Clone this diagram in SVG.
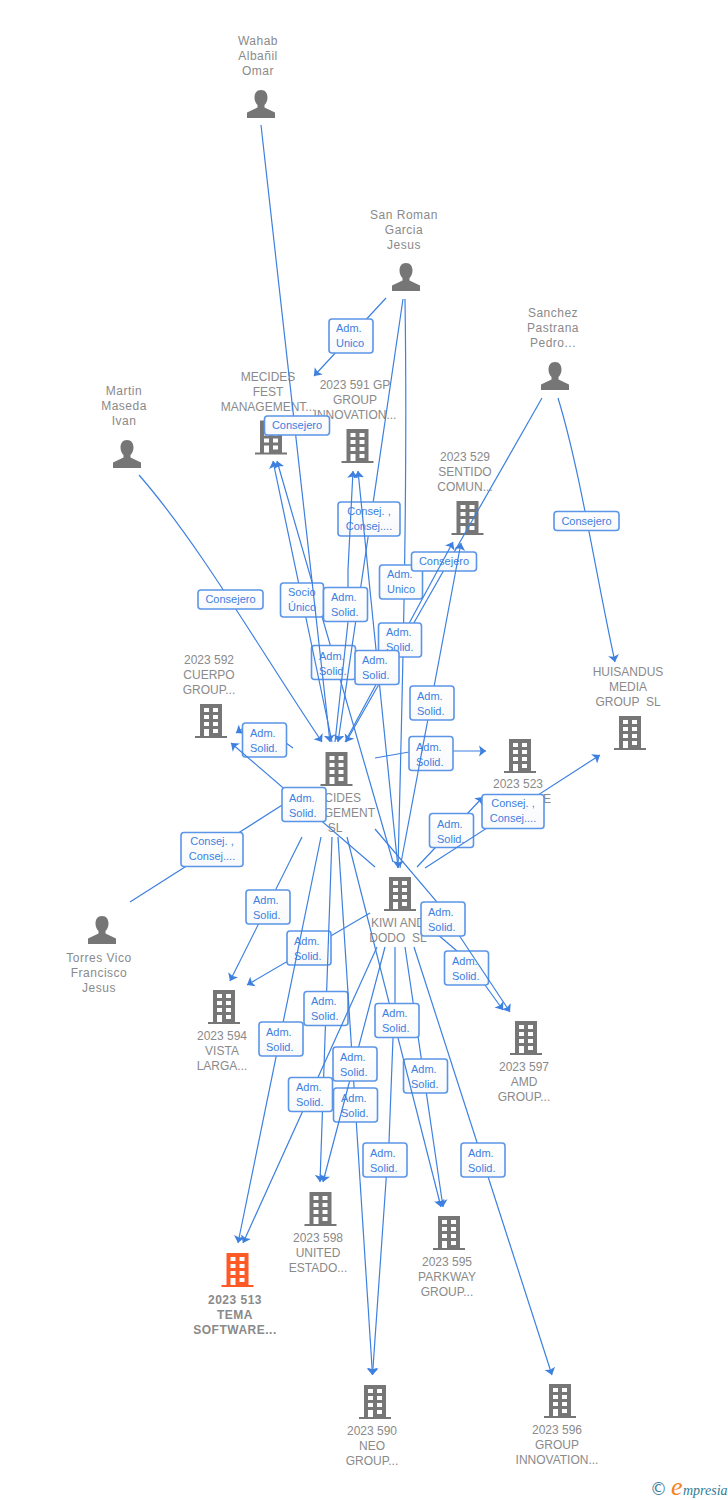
<svg xmlns="http://www.w3.org/2000/svg" width="728" height="1500" viewBox="0 0 728 1500">
<style>
text{font-family:"Liberation Sans",Arial,sans-serif}
.n{font-size:12px;fill:#8a8a8a;text-anchor:middle;white-space:pre}
.s{letter-spacing:.5px}
.b{font-weight:bold;letter-spacing:.5px}
.r{text-anchor:end}
.e{fill:none;stroke:#3d80e0;stroke-width:1.2;marker-end:url(#a)}
.p{fill:none;stroke:#3d80e0;stroke-width:1.2}
.l rect{fill:url(#g);stroke:#5b95e8;stroke-width:1.6}
.l text{font-size:11px;fill:#3d80e0}
.c{text-anchor:middle}
</style>
<defs>
<linearGradient id="g" x1="0" y1="0" x2="0" y2="1"><stop offset="0" stop-color="#fff"/><stop offset="1" stop-color="#f8f9fb"/></linearGradient>
<marker id="a" markerUnits="userSpaceOnUse" markerWidth="10" markerHeight="12" refX="7" refY="6" orient="auto"><path d="M0 .5L7 6L0 11.500L1.500 6Z" fill="#3d80e0"/></marker>
<symbol id="bld" overflow="visible"><path fill-rule="evenodd" d="M-11-17H11V15H16V17H-16V15H-11ZM-7-13V-9H-2V-13ZM2-13V-9H7V-13ZM-7-6V-2H-2V-6ZM2-6V-2H7V-6ZM-7 1V5H-2V1ZM2 1V5H7V1ZM-7 8V15H-2V8ZM2 8V12H7V8Z"/></symbol>
<symbol id="per" overflow="visible"><path d="M0-14C4.500-14 6.500-10.500 6.500-6.500C6.500-3 5-.5 3.500 1V3.500L14 8.500V14H-14V8.500L-3.500 3.500V1C-5-.5-6.500-3-6.500-6.500C-6.500-10.500-4.500-14 0-14Z"/></symbol>
</defs>
<g id="nodes" fill="#767676">
<g id="n-wahab"><use href="#per" x="261" y="104"/><text class="n s" x="258" y="45">Wahab</text><text class="n s" x="258" y="60">Albañil</text><text class="n s" x="258" y="75">Omar</text></g>
<g id="n-sanroman"><use href="#per" x="406" y="277"/><text class="n s" x="404" y="219">San Roman</text><text class="n s" x="404" y="234">Garcia</text><text class="n s" x="404" y="249">Jesus</text></g>
<g id="n-sanchez"><use href="#per" x="555" y="376"/><text class="n s" x="553" y="317">Sanchez</text><text class="n s" x="553" y="332">Pastrana</text><text class="n s" x="553" y="347">Pedro...</text></g>
<g id="n-martin"><use href="#per" x="127" y="454"/><text class="n s" x="124" y="395">Martin</text><text class="n s" x="124" y="410">Maseda</text><text class="n s" x="124" y="425">Ivan</text></g>
<g id="n-torres"><use href="#per" x="102" y="930"/><text class="n s" x="99" y="962">Torres Vico</text><text class="n s" x="99" y="977">Francisco</text><text class="n s" x="99" y="992">Jesus</text></g>
<g id="n-fest"><use href="#bld" x="271" y="437.500"/><text class="n" x="268" y="381">MECIDES</text><text class="n" x="268" y="396">FEST</text><text class="n" x="268" y="411">MANAGEMENT...</text></g>
<g id="n-591"><use href="#bld" x="357.500" y="446"/><text class="n" x="355" y="389">2023 591 GP</text><text class="n" x="355" y="404">GROUP</text><text class="n" x="355" y="419">INNOVATION...</text></g>
<g id="n-529"><use href="#bld" x="467.500" y="518"/><text class="n" x="465" y="461">2023 529</text><text class="n" x="465" y="476">SENTIDO</text><text class="n" x="465" y="491">COMUN...</text></g>
<g id="n-592"><use href="#bld" x="211" y="721"/><text class="n" x="209" y="664">2023 592</text><text class="n" x="209" y="679">CUERPO</text><text class="n" x="209" y="694">GROUP...</text></g>
<g id="n-huis"><use href="#bld" x="630" y="733"/><text class="n" x="628" y="676">HUISANDUS</text><text class="n" x="628" y="691">MEDIA</text><text class="n" x="628" y="706">GROUP  SL</text></g>
<g id="n-mecides"><use href="#bld" x="336.500" y="769"/><text class="n r" x="361" y="802">CIDES</text><text class="n r" x="375" y="817">GEMENT</text><text class="n" x="335" y="832">SL</text></g>
<g id="n-523"><use href="#bld" x="520" y="756"/><text class="n" x="518" y="788">2023 523</text><text class="n" x="547" y="803">E</text></g>
<g id="n-kiwi"><use href="#bld" x="400" y="894"/><text class="n" x="398" y="927">KIWI AND</text><text class="n" x="398" y="942">DODO  SL</text></g>
<g id="n-594"><use href="#bld" x="224" y="1007"/><text class="n" x="222" y="1040">2023 594</text><text class="n" x="222" y="1055">VISTA</text><text class="n" x="222" y="1070">LARGA...</text></g>
<g id="n-597"><use href="#bld" x="526" y="1038"/><text class="n" x="524" y="1071">2023 597</text><text class="n" x="524" y="1086">AMD</text><text class="n" x="524" y="1101">GROUP...</text></g>
<g id="n-598"><use href="#bld" x="320.500" y="1209"/><text class="n" x="318" y="1242">2023 598</text><text class="n" x="318" y="1257">UNITED</text><text class="n" x="318" y="1272">ESTADO...</text></g>
<g id="n-595"><use href="#bld" x="449" y="1233"/><text class="n" x="447" y="1266">2023 595</text><text class="n" x="447" y="1281">PARKWAY</text><text class="n" x="447" y="1296">GROUP...</text></g>
<g id="n-513"><use href="#bld" x="237.500" y="1270" fill="#ff5a26"/><text class="n b" x="235" y="1304">2023 513</text><text class="n b" x="235" y="1319">TEMA</text><text class="n b" x="235" y="1334">SOFTWARE...</text></g>
<g id="n-590"><use href="#bld" x="375" y="1402"/><text class="n" x="372" y="1435">2023 590</text><text class="n" x="372" y="1450">NEO</text><text class="n" x="372" y="1465">GROUP...</text></g>
<g id="n-596"><use href="#bld" x="560" y="1401"/><text class="n" x="557" y="1434">2023 596</text><text class="n" x="557" y="1449">GROUP</text><text class="n" x="557" y="1464">INNOVATION...</text></g>
</g>
<g id="connectors">
<path class="e" d="M386 298L314 376"/>
<g class="l"><rect x="329" y="319" width="44" height="34" rx="3"/><text x="336" y="332">Adm.</text><text x="336" y="347">Unico</text></g>
<path class="e" d="M393 862L277 461"/>
<g class="l"><rect x="311.500" y="645.500" width="44" height="34" rx="3"/><text x="319" y="660">Adm.</text><text x="319" y="675">Solid.</text></g>
<path class="e" d="M332 742L273 461"/>
<g class="l"><rect x="280.500" y="583" width="43" height="34" rx="3"/><text x="288" y="596">Socio</text><text x="288" y="611">Único</text></g>
<path class="e" d="M261 125L330 742"/>
<g class="l"><rect x="264.500" y="416" width="65" height="19" rx="3"/><text class="c" x="297" y="429">Consejero</text></g>
<path class="e" d="M403 299L338 742"/>
<g class="l"><rect x="338" y="502" width="62" height="34" rx="3"/><text class="c" x="369" y="515">Consej. ,</text><text class="c" x="369" y="530">Consej....</text></g>
<path class="e" d="M405 299C408 500 402 700 398 868"/>
<g class="l"><rect x="379.500" y="565" width="43" height="34" rx="3"/><text x="387" y="578">Adm.</text><text x="387" y="593">Unico</text></g>
<path class="e" d="M542 398L346 742"/>
<g class="l"><rect x="411.500" y="552" width="65" height="19" rx="3"/><text class="c" x="444" y="565">Consejero</text></g>
<path class="e" d="M345 742L453 542"/>
<g class="l"><rect x="378.500" y="623" width="43" height="34" rx="3"/><text x="386" y="636">Adm.</text><text x="386" y="651">Solid.</text></g>
<path class="e" d="M398 868L358 471"/>
<g class="l"><rect x="355" y="650.500" width="44" height="34" rx="3"/><text x="362" y="664">Adm.</text><text x="362" y="679">Solid.</text></g>
<path class="e" d="M335 742L348 622L348 570L353 471"/>
<g class="l"><rect x="323.500" y="587.500" width="44" height="34" rx="3"/><text x="331" y="601">Adm.</text><text x="331" y="616">Solid.</text></g>
<path class="e" d="M375 758L409 752L453 751L486 751"/>
<g class="l"><rect x="409" y="736.500" width="44" height="34" rx="3"/><text x="416" y="751">Adm.</text><text x="416" y="766">Solid.</text></g>
<path class="e" d="M400 868L461 543"/>
<g class="l"><rect x="410" y="686" width="44" height="34" rx="3"/><text x="417" y="700">Adm.</text><text x="417" y="715">Solid.</text></g>
<path class="e" d="M423 922L457 951L485 985L503 1010"/>
<g class="l"><rect x="444.500" y="951" width="44" height="34" rx="3"/><text x="452" y="965">Adm.</text><text x="452" y="980">Solid.</text></g>
<path class="e" d="M375 829L437 902L510 1012"/>
<g class="l"><rect x="421" y="902" width="44" height="34" rx="3"/><text x="428" y="916">Adm.</text><text x="428" y="931">Solid.</text></g>
<path class="e" d="M417 867L483 797"/>
<g class="l"><rect x="429.500" y="813.500" width="44" height="34" rx="3"/><text x="437" y="828">Adm.</text><text x="437" y="843">Solid.</text></g>
<path class="e" d="M425 868L600 755"/>
<g class="l"><rect x="482" y="794.500" width="62" height="34" rx="3"/><text class="c" x="513" y="807">Consej. ,</text><text class="c" x="513" y="822">Consej....</text></g>
<path class="p" d="M130 902L290 800"/>
<g class="l"><rect x="181" y="832.500" width="62" height="34" rx="3"/><text class="c" x="212" y="845">Consej. ,</text><text class="c" x="212" y="860">Consej....</text></g>
<path class="e" d="M293 748L286 743M242 729L236 733"/>
<g class="l"><rect x="242.500" y="723" width="44" height="34" rx="3"/><text x="250" y="737">Adm.</text><text x="250" y="752">Solid.</text></g>
<path class="e" d="M375 867L231 743"/>
<g class="l"><rect x="282" y="787.500" width="44" height="34" rx="3"/><text x="289" y="802">Adm.</text><text x="289" y="817">Solid.</text></g>
<path class="e" d="M302 837L230 981"/>
<g class="l"><rect x="246" y="890" width="44" height="34" rx="3"/><text x="253" y="904">Adm.</text><text x="253" y="919">Solid.</text></g>
<path class="e" d="M370 913L247 985"/>
<g class="l"><rect x="287" y="931" width="44" height="34" rx="3"/><text x="294" y="945">Adm.</text><text x="294" y="960">Solid.</text></g>
<path class="e" d="M321 837L238 1243"/>
<g class="l"><rect x="259" y="1022" width="44" height="34" rx="3"/><text x="266" y="1036">Adm.</text><text x="266" y="1051">Solid.</text></g>
<path class="e" d="M332 837L320 1182"/>
<g class="l"><rect x="304" y="991.500" width="44" height="34" rx="3"/><text x="311" y="1005">Adm.</text><text x="311" y="1020">Solid.</text></g>
<path class="e" d="M377 947L243 1243"/>
<g class="l"><rect x="288.500" y="1077.500" width="44" height="34" rx="3"/><text x="296" y="1091">Adm.</text><text x="296" y="1106">Solid.</text></g>
<path class="e" d="M338 837L372.500 1375"/>
<g class="l"><rect x="333.500" y="1088" width="44" height="34" rx="3"/><text x="341" y="1102">Adm.</text><text x="341" y="1117">Solid.</text></g>
<path class="e" d="M385 947L323 1182"/>
<g class="l"><rect x="333" y="1047" width="44" height="34" rx="3"/><text x="340" y="1061">Adm.</text><text x="340" y="1076">Solid.</text></g>
<path class="e" d="M395 947L395 1003L393 1038L389 1142L386.300 1177L372.500 1375"/>
<g class="l"><rect x="363" y="1143" width="44" height="34" rx="3"/><text x="370" y="1157">Adm.</text><text x="370" y="1172">Solid.</text></g>
<path class="e" d="M405 947L443 1207"/>
<g class="l"><rect x="403.500" y="1059" width="44" height="34" rx="3"/><text x="411" y="1073">Adm.</text><text x="411" y="1088">Solid.</text></g>
<path class="e" d="M347 837L441 1207"/>
<g class="l"><rect x="375" y="1003.500" width="44" height="34" rx="3"/><text x="382" y="1017">Adm.</text><text x="382" y="1032">Solid.</text></g>
<path class="e" d="M414 947L552 1375"/>
<g class="l"><rect x="461" y="1143" width="44" height="34" rx="3"/><text x="468" y="1157">Adm.</text><text x="468" y="1172">Solid.</text></g>
<path class="e" d="M139 475C200 545 260 650 322 742"/>
<g class="l"><rect x="198" y="590" width="65" height="19" rx="3"/><text class="c" x="230.500" y="603">Consejero</text></g>
<path class="e" d="M558 398C580 470 595 570 615 662"/>
<g class="l"><rect x="554" y="511.500" width="65" height="19" rx="3"/><text class="c" x="586.500" y="525">Consejero</text></g>
</g>
<g id="logo">
<text x="650" y="1495" font-size="17" fill="#3d7f9c" style="font-family:'DejaVu Sans',sans-serif">©</text>
<text x="671" y="1495" font-size="26" fill="#f58220" font-style="italic" style="font-family:'Liberation Serif',serif">e</text>
<text x="683" y="1495" font-size="14" fill="#2f7d96" font-style="italic" style="font-family:'Liberation Serif',serif">mpresia</text>
</g>
</svg>
